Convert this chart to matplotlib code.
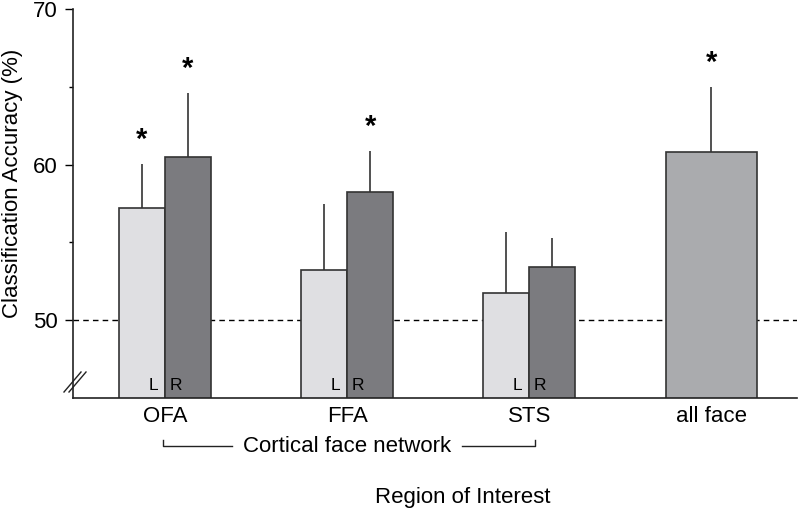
import matplotlib
matplotlib.use("Agg")
import matplotlib.pyplot as plt
from matplotlib.transforms import blended_transform_factory
import numpy as np

plt.rcParams['font.family'] = ['Liberation Sans', 'DejaVu Sans']

regions = ["OFA", "FFA", "STS", "all face"]
left_vals = [57.2, 53.2, 51.76]
right_vals = [60.5, 58.25, 53.39]
left_err = [2.84, 4.3, 3.88]
right_err = [4.08, 2.65, 1.91]
left_sig = [True, False, False]
right_sig = [True, True, False]
all_val = 60.8
all_err = 4.2
all_sig = True
chance = 50
yticks = [50, 60, 70]

c_left = "#dfdfe2"
c_right = "#7b7b7f"
c_all = "#aaabae"
edge = "#333333"
FS = 16

fig = plt.figure(figsize=(8, 5.11), dpi=100)
ax = fig.add_axes([73/800, 1-398/511, (797-73)/800, (398-9)/511])

w = 0.253
x = np.arange(3)
ax.bar(x - w/2, left_vals, width=w, color=c_left, edgecolor=edge, linewidth=1.2, zorder=2)
ax.bar(x + w/2, right_vals, width=w, color=c_right, edgecolor=edge, linewidth=1.2, zorder=2)
ax.bar([3], [all_val], width=0.5, color=c_all, edgecolor=edge, linewidth=1.2, zorder=2)

ax.vlines(x - w/2, left_vals, np.array(left_vals) + np.array(left_err), color=edge, lw=1.2, zorder=1)
ax.vlines(x + w/2, right_vals, np.array(right_vals) + np.array(right_err), color=edge, lw=1.2, zorder=1)
ax.vlines([3], [all_val], [all_val + all_err], color=edge, lw=1.2, zorder=1)

star_off = 1.55
star_kw = dict(ha="center", va="center", fontsize=21, fontweight="bold")
for i in range(3):
    if left_sig[i]:
        ax.text(x[i] - w/2, left_vals[i] + left_err[i] + star_off, "*", **star_kw)
    if right_sig[i]:
        ax.text(x[i] + w/2, right_vals[i] + right_err[i] + star_off, "*", **star_kw)
if all_sig:
    ax.text(3, all_val + all_err + star_off, "*", **star_kw)

# L / R labels
for i in range(3):
    ax.text(x[i] - 0.038, 45.3, "L", ha="right", va="bottom", fontsize=12.5, zorder=3)
    ax.text(x[i] + 0.025, 45.3, "R", ha="left", va="bottom", fontsize=12.5, zorder=3)

ax.axhline(chance, color="black", lw=1.0, ls=(0, (4, 3)), zorder=0)

ax.set_ylim(45, 70)
ax.set_xlim(-0.505, 3.47)
ax.set_yticks(yticks)
ax.set_yticks([55, 65], minor=True)
ax.set_yticklabels([str(t) for t in yticks], fontsize=FS)
ax.tick_params(axis="y", which="major", length=6, width=1, direction="out", pad=5)
ax.tick_params(axis="y", which="minor", length=3, width=1, direction="out")
ax.set_xticks(range(4))
ax.set_xticklabels(regions, fontsize=FS)
ax.tick_params(axis="x", length=0, pad=6)
for s in ["top", "right"]:
    ax.spines[s].set_visible(False)
for s in ["left", "bottom"]:
    ax.spines[s].set_linewidth(1.2)
    ax.spines[s].set_color("#222222")

# axis break marks
tr_ax = ax.transAxes
for dx in [0, 5/724]:
    ax.plot([-9/724 + dx, 8/724 + dx], [6/389, 26/389], transform=tr_ax, color="#222222",
            lw=1.0, clip_on=False)

# bracket for cortical face network
bt = blended_transform_factory(ax.transData, ax.transAxes)
yb = -(446-398)/389
yt = -(440-398)/389
ax.plot([-0.01, -0.01, 0.37], [yt, yb, yb], transform=bt, color="#222222", lw=1.0, clip_on=False)
ax.plot([1.63, 2.03, 2.03], [yb, yb, yt], transform=bt, color="#222222", lw=1.0, clip_on=False)
ax.text(1, yb, "Cortical face network", transform=bt, ha="center", va="center", fontsize=FS)

fig.text(463/800, 1-497/511, "Region of Interest", ha="center", va="center", fontsize=FS)
fig.text(13/800, 1-183/511, "Classification Accuracy (%)", ha="center", va="center",
         rotation=90, fontsize=FS)

fig.savefig("out.png", dpi=100)
